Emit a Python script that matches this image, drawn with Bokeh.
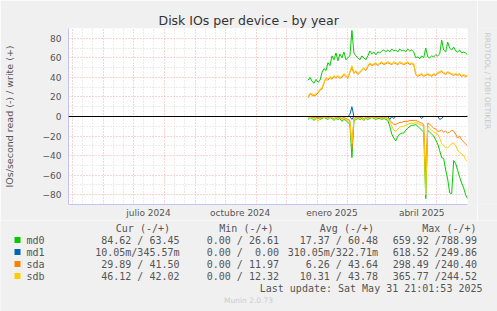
import math
from datetime import datetime, timedelta

from bokeh.plotting import figure
from bokeh.layouts import column, row
from bokeh.models import Range1d, FixedTicker, Span
from bokeh.core.properties import value
from bokeh.embed import file_html
from bokeh.resources import INLINE

# ---------------- data ----------------
start_day = datetime(2024, 12, 23)
step_days = 2
n_points = 81

md0_write = [37, 40, 36, 34, 38, 35, 37, 45, 49, 47,
             55, 52, 62, 58, 65, 57, 64, 60, 66, 58,
             60, 62, 88, 65, 62, 60, 58, 62, 60, 58,
             62, 67, 64, 66, 63, 66, 65, 67, 68, 66,
             68, 66, 69, 67, 68, 66, 69, 67, 68, 66,
             69, 67, 68, 66, 60, 61, 59, 62, 60, 70,
             61, 60, 62, 61, 63, 62, 64, 78, 68, 66,
             76, 70, 68, 71, 67, 66, 68, 65, 66, 65,
             63]
md0_read = [3, 1, 2, 4, 2, 1, 3, 2, 1, 2,
            3, 1, 2, 4, 2, 3, 2, 5, 3, 4,
            6, 8, 42, 5, 3, 2, 3, 2, 4, 2,
            3, 2, 1, 2, 3, 2, 2, 3, 2, 3,
            4, 10, 18, 22, 25, 20, 18, 17, 17, 14,
            12, 10, 9, 9, 8, 10, 12, 14, 16, 84,
            14, 16, 18, 20, 24, 28, 35, 42, 43, 55,
            64, 78, 79, 45, 48, 55, 62, 68, 73, 80,
            84]
md1_write = [0, 0, 0, 0, 0, 0, 0, 0, 0, 0,
             0, 0, 0, 0, 0, 0, 0, 0, 0, 0,
             0, 2, 10, 0, 0, 0, 0, 0, 0, 0,
             0, 0, 0, 0, 0, 0, 0, 0, 0, 0,
             0, 0, 0, 0, 0, 0, 0, 0, 0, 0,
             0, 0, 0, 0, 0, 0, 0, 0, 0, 0,
             0, 0, 0, 0, 0, 0, 0, 0, 0, 0,
             0, 0, 0, 0, 0, 0, 0, 0, 0, 0,
             0.3]
md1_read = [0, 0, 0, 0, 0, 0, 0, 0, 0, 0,
            0, 0, 0, 0, 0, 0, 0, 0, 0, 0,
            0, 0, 3, 0, 0, 0, 0, 0, 0, 0,
            0, 0, 0, 0, 0, 0, 0, 0, 0, 0,
            0, 3, 0, 2, 0, 0, 0, 0, 0, 0,
            0, 0, 0, 0, 0, 0, 0, 2, 0, 0,
            0, 0, 0, 0, 0, 0, 3, 2, 0, 0,
            0, 0, 0, 0, 0, 0, 0, 0, 0, 0,
            0]
sda_write = [19, 23, 22, 21, 22, 24, 27, 28, 34, 39,
             37, 40, 38, 41, 39, 41, 39, 40, 43, 41,
             39, 45, 50, 44, 46, 43, 45, 47, 49, 47,
             51, 54, 52, 53, 54, 52, 54, 55, 53, 54,
             55, 54, 53, 55, 54, 53, 55, 54, 53, 54,
             55, 53, 54, 53, 43, 41, 42, 43, 41, 42,
             43, 42, 41, 43, 42, 44, 45, 46, 44, 43,
             45, 44, 43, 42, 43, 42, 43, 41, 42, 41,
             41.5]
sda_read = [1, 1, 1, 1, 1, 2, 1, 1, 1, 1,
            1, 1, 1, 2, 1, 1, 1, 2, 1, 2,
            3, 4, 33, 2, 1, 1, 1, 1, 2, 1,
            1, 1, 1, 1, 1, 1, 1, 1, 1, 1,
            2, 4, 6, 8, 8, 7, 6, 6, 5, 5,
            5, 4, 4, 4, 4, 5, 6, 7, 8, 60,
            7, 8, 10, 12, 13, 15, 15, 14, 16, 15,
            17, 16, 14, 15, 18, 22, 20, 24, 26, 28,
            30]
sdb_write = [20, 24, 23, 22, 23, 25, 28, 29, 35, 40,
             38, 41, 39, 42, 40, 42, 40, 41, 44, 42,
             40, 46, 52, 45, 47, 44, 46, 48, 50, 48,
             52, 55, 53, 54, 55, 53, 55, 56, 54, 55,
             56, 55, 54, 56, 55, 54, 56, 55, 54, 55,
             56, 54, 55, 54, 44, 42, 43, 44, 42, 43,
             44, 43, 42, 44, 43, 45, 46, 47, 45, 44,
             46, 45, 44, 43, 44, 43, 44, 42, 43, 42,
             42]
sdb_read = [1, 1, 1, 2, 1, 5, 2, 1, 1, 1,
            2, 1, 1, 3, 1, 2, 1, 3, 2, 3,
            4, 6, 28, 3, 2, 1, 2, 1, 3, 1,
            2, 1, 1, 1, 2, 1, 1, 2, 1, 2,
            2, 5, 10, 14, 15, 13, 11, 10, 10, 9,
            8, 7, 7, 7, 6, 7, 8, 9, 10, 80,
            10, 12, 14, 16, 17, 18, 22, 28, 30, 32,
            32, 30, 28, 27, 30, 34, 37, 38, 40, 44,
            46]

series_names = ["md0", "md1", "sda", "sdb"]
series_colors = ["#00CC00", "#0066B3", "#FF8000", "#FFCC00"]
writes = [md0_write, md1_write, sda_write, sdb_write]
reads = [md0_read, md1_read, sda_read, sdb_read]

cur_vals = ["84.62 / 63.45", "10.05m/345.57m", "29.89 / 41.50", "46.12 / 42.02"]
min_vals = ["0.00 / 26.61", "0.00 /\u00a0\u00a00.00", "0.00 / 11.97", "0.00 / 12.32"]
avg_vals = ["17.37 / 60.48", "310.05m/322.71m", "6.26 / 43.64", "10.31 / 43.78"]
max_vals = ["659.92 /788.99", "618.52 /249.86", "298.49 /240.40", "365.77 /244.52"]
col_headers = ["Cur (-/+)", "Min (-/+)", "Avg (-/+)", "Max (-/+)"]

title_text = "Disk IOs per device - by year"
y_label = "IOs/second read (-) / write (+)"
last_update = "Last update: Sat May 31 21:01:53 2025"
footer = "Munin 2.0.73"
side_text = "RRDTOOL / TOBI OETIKER"

label_months = [(2024, 7, "julio 2024"), (2024, 10, "octubre 2024"),
                (2025, 1, "enero 2025"), (2025, 4, "abril 2025")]
y_major = [-80, -60, -40, -20, 0, 20, 40, 60, 80]
y_minor = [-90, -70, -50, -30, -10, 10, 30, 50, 70, 90]

# ---------------- helpers ----------------
def ms(d):
    return (d - datetime(1970, 1, 1)).total_seconds() * 1000.0

dates = [start_day + timedelta(days=step_days * i) for i in range(n_points)]
xs = [ms(d) for d in dates]

end_t = datetime(2025, 5, 31, 21, 1)
begin_t = end_t - timedelta(days=400)

BG = "#F0F0F0"
W, H = 497, 311
MAIN_W, MAIN_H = 477, 220
SIDE_W = W - MAIN_W
LEG_H = H - MAIN_H
FL, FT = 67, 28
FRAME_W, FRAME_H = 400, 176

# ---------------- main figure ----------------
p = figure(width=MAIN_W, height=MAIN_H, output_backend="svg", toolbar_location=None,
           x_range=Range1d(ms(begin_t), ms(end_t)), y_range=Range1d(-90, 90),
           min_border_left=FL, min_border_right=MAIN_W - FL - FRAME_W,
           min_border_top=FT, min_border_bottom=MAIN_H - FT - FRAME_H)
p.background_fill_color = "white"
p.border_fill_color = BG
p.outline_line_color = None

p.title.text = title_text
p.title.align = "left"
p.title.offset = 90
p.title.text_font = "DejaVu Sans"
p.title.text_font_size = "12.5px"
p.title.text_font_style = "normal"
p.title.text_color = "#333333"
p.title.standoff = 2

# grids
month_starts = []
yy, mm = 2024, 5
while (yy, mm) <= (2025, 5):
    month_starts.append(datetime(yy, mm, 1))
    mm += 1
    if mm > 12:
        mm, yy = 1, yy + 1
minor_days = []
for dstart in month_starts:
    for dd in (11, 21):
        minor_days.append(ms(dstart.replace(day=dd)))

p.xgrid.ticker = FixedTicker(ticks=[ms(d) for d in month_starts], minor_ticks=minor_days)
p.ygrid.ticker = FixedTicker(ticks=y_major, minor_ticks=y_minor)
for g in (p.xgrid, p.ygrid):
    g.grid_line_color = "#F0A8A8"
    g.grid_line_dash = "1 2"
    g.minor_grid_line_color = "#D8D8D8"
    g.minor_grid_line_dash = "1 2"

# x axis labels at mid month
lab_ticks = []
overrides = {}
for (ly, lm, txt) in label_months:
    t = ms(datetime(ly, lm, 1) + timedelta(days=15))
    lab_ticks.append(t)
    overrides[t] = txt
p.xaxis.ticker = FixedTicker(ticks=lab_ticks)
p.xaxis.major_label_overrides = overrides
p.yaxis.ticker = FixedTicker(ticks=y_major)

for ax in (p.xaxis, p.yaxis):
    ax.axis_line_color = "#C4C4F4"
    ax.major_tick_line_color = None
    ax.minor_tick_line_color = None
    ax.major_tick_out = 0
    ax.major_tick_in = 0
    ax.minor_tick_out = 0
    ax.minor_tick_in = 0
    ax.major_label_text_font = "DejaVu Sans"
    ax.major_label_text_font_size = "9px"
    ax.major_label_text_color = "#555555"
p.xaxis.major_label_standoff = 3
p.yaxis.major_label_standoff = 7
p.yaxis.axis_label = y_label
p.yaxis.axis_label_text_font = "DejaVu Sans"
p.yaxis.axis_label_text_font_size = "9.5px"
p.yaxis.axis_label_text_font_style = "normal"
p.yaxis.axis_label_text_color = "#555555"
p.yaxis.axis_label_standoff = 25

# series
for name, col, w, r in zip(series_names, series_colors, writes, reads):
    p.line(xs, w, line_color=col, line_width=1)
    p.line(xs, [-v for v in r], line_color=col, line_width=1)

p.add_layout(Span(location=0, dimension="width", line_color="black", line_width=1))

# ---------------- side figure (vertical credit) ----------------
s = figure(width=SIDE_W, height=MAIN_H, output_backend="svg", toolbar_location=None,
           x_range=Range1d(MAIN_W, W), y_range=Range1d(MAIN_H, 0),
           x_axis_location=None, y_axis_location=None, min_border=0)
s.grid.visible = False
s.background_fill_color = BG
s.border_fill_color = BG
s.outline_line_color = None
s.text(x=[487], y=[5], text=[side_text], angle=-math.pi / 2,
       text_align="left", text_baseline="middle",
       text_font=value("DejaVu Sans"), text_font_size="7.5px", text_color="#C8C8C8")

# ---------------- legend figure ----------------
lg = figure(width=W, height=LEG_H, output_backend="svg", toolbar_location=None,
            x_range=Range1d(0, W), y_range=Range1d(H, MAIN_H),
            x_axis_location=None, y_axis_location=None, min_border=0)
lg.grid.visible = False
lg.background_fill_color = BG
lg.border_fill_color = BG
lg.outline_line_color = None

mono = value("DejaVu Sans Mono")
fs = "10px"
tc = "#555555"
header_y = 228
row_y0 = 239.5
row_dy = 12
hdr_ends = [169.5, 273, 373.5, 476]
val_ends = [179, 278.5, 377.5, 476.5]

lg.text(x=hdr_ends, y=[header_y] * 4, text=col_headers, text_align="right",
        text_baseline="middle", text_font=mono, text_font_size=fs, text_color=tc)

row_ys = [row_y0 + i * row_dy for i in range(len(series_names))]
lg.quad(left=[14] * 4, right=[20] * 4, top=[y - 3 for y in row_ys],
        bottom=[y + 3 for y in row_ys], fill_color=series_colors, line_color=None)
lg.text(x=[26] * 4, y=row_ys, text=series_names, text_align="left",
        text_baseline="middle", text_font=mono, text_font_size=fs, text_color=tc)
for vals, xe in zip([cur_vals, min_vals, avg_vals, max_vals], val_ends):
    lg.text(x=[xe] * 4, y=row_ys, text=vals, text_align="right",
            text_baseline="middle", text_font=mono, text_font_size=fs, text_color=tc)

lg.text(x=[482], y=[287.5], text=[last_update], text_align="right",
        text_baseline="middle", text_font=mono, text_font_size=fs, text_color=tc)
lg.text(x=[248], y=[300], text=[footer], text_align="center",
        text_baseline="middle", text_font=value("DejaVu Sans"),
        text_font_size="7.5px", text_color="#CCCCCC")

layout = column(row(p, s, spacing=0), lg, spacing=0)
open("out.html", "w").write(file_html(layout, INLINE))
